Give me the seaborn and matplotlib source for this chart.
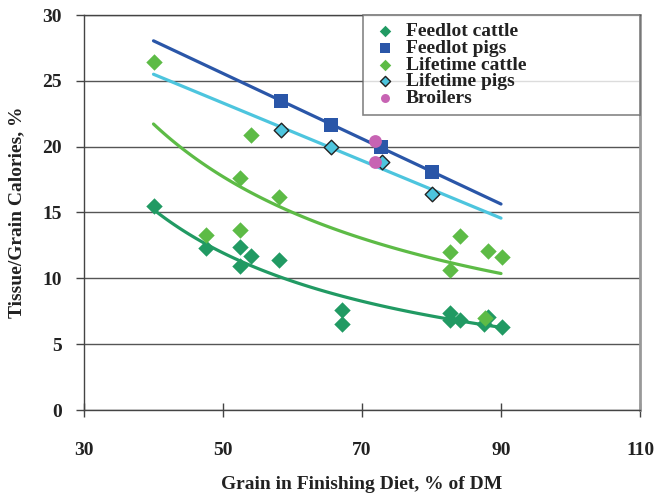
import numpy as np
import pandas as pd
import matplotlib
matplotlib.use("Agg")
import matplotlib.pyplot as plt
import seaborn as sns

# ---- data ----
fc_x = [40.0, 47.6, 52.5, 54.0, 52.5, 58.1, 67.1, 67.1, 82.7, 82.7, 84.1, 88.2, 87.6, 90.1]
fc_y = [15.5, 12.3, 12.4, 11.7, 10.9, 11.4, 7.6, 6.5, 7.4, 6.8, 6.85, 7.1, 6.5, 6.3]

fp_x = [58.4, 65.5, 72.7, 80.0]
fp_y = [23.5, 21.65, 20.0, 18.1]

lc_x = [40.1, 54.0, 52.5, 58.1, 47.6, 52.5, 84.1, 82.7, 82.7, 88.1, 90.1, 87.7]
lc_y = [26.4, 20.9, 17.6, 16.2, 13.3, 13.7, 13.2, 12.0, 10.6, 12.1, 11.6, 7.0]

lp_x = [58.4, 65.5, 72.9, 80.1]
lp_y = [21.3, 19.95, 18.8, 16.4]

br_x = [71.9, 71.9]
br_y = [20.45, 18.8]

series = ["Feedlot cattle", "Feedlot pigs", "Lifetime cattle", "Lifetime pigs", "Broilers"]
colors = {"Feedlot cattle": "#219A63", "Feedlot pigs": "#2A56A8",
          "Lifetime cattle": "#5DBB46", "Lifetime pigs": "#4DC5DE",
          "Broilers": "#C763B3"}
x_ticks = [30, 50, 70, 90, 110]
y_ticks = [0, 5, 10, 15, 20, 25, 30]

frames = []
for name, xs, ys in [("Feedlot cattle", fc_x, fc_y), ("Feedlot pigs", fp_x, fp_y),
                     ("Lifetime cattle", lc_x, lc_y), ("Lifetime pigs", lp_x, lp_y),
                     ("Broilers", br_x, br_y)]:
    frames.append(pd.DataFrame({"x": xs, "y": ys, "series": name}))
df = pd.concat(frames, ignore_index=True)

# ---- trend lines (fitted from the data) ----
xr = np.linspace(40, 90, 100)
def power_fit(xs, ys):
    b, a = np.polyfit(np.log(xs), np.log(ys), 1)
    return np.exp(a) * xr ** b
def lin_fit(xs, ys):
    m, c = np.polyfit(xs, ys, 1)
    return m * xr + c

trends = [("Feedlot pigs", lin_fit(fp_x, fp_y)),
          ("Lifetime pigs", lin_fit(lp_x, lp_y)),
          ("Lifetime cattle", power_fit(lc_x, lc_y)),
          ("Feedlot cattle", power_fit(fc_x, fc_y))]

sns.set_theme(style="white")
plt.rcParams['font.family'] = ['Liberation Serif', 'DejaVu Serif']
plt.rcParams['font.weight'] = 'bold'

fig = plt.figure(figsize=(6.61, 4.98), dpi=100)
ax = fig.add_axes([84/661, 1-410/498, 556/661, 395/498])

for name, yy in trends:
    sns.lineplot(x=xr, y=yy, ax=ax, color=colors[name], lw=2.3, legend=False, zorder=2)

markers = {"Feedlot cattle": "D", "Feedlot pigs": "s", "Lifetime cattle": "D",
           "Lifetime pigs": "D", "Broilers": "o"}
sizes = {"Feedlot cattle": 70, "Feedlot pigs": 95, "Lifetime cattle": 70,
         "Lifetime pigs": 55, "Broilers": 85}
edges = {"Lifetime pigs": "#222222"}
for name in series:
    sub = df[df.series == name]
    sns.scatterplot(data=sub, x="x", y="y", ax=ax, marker=markers[name],
                    s=sizes[name], color=colors[name],
                    edgecolor=edges.get(name, colors[name]),
                    linewidth=1.0 if name in edges else 0, label=name, zorder=3)

ax.set_xlim(30, 110)
ax.set_ylim(0, 30)
ax.set_xticks(x_ticks)
ax.set_yticks(y_ticks)
ax.yaxis.grid(True, color="#555555", lw=1.0)
ax.xaxis.grid(False)
ax.set_axisbelow(True)
for s in ["left", "bottom", "top"]:
    ax.spines[s].set_color("#444444")
    ax.spines[s].set_linewidth(1.0)
ax.spines["right"].set_color("#999999")
ax.spines["right"].set_linewidth(2.0)

ax.tick_params(axis="y", direction="out", length=6, width=1, color="#444444",
               pad=10, labelsize=14, left=True)
ax.tick_params(axis="x", direction="inout", length=10, width=1, color="#444444",
               pad=18, labelsize=14, bottom=True)
for lab in ax.get_xticklabels() + ax.get_yticklabels():
    lab.set_fontweight("bold")
    lab.set_color("#222222")

ax.set_xlabel("Grain in Finishing Diet, % of DM", fontsize=14, fontweight="bold",
              color="#222222", labelpad=12)
ax.set_ylabel("Tissue/Grain Calories, %", fontsize=14, fontweight="bold",
              color="#222222", labelpad=12)

leg = ax.legend(loc="upper left", bbox_to_anchor=(0.502, 0, 0.498, 1.0), mode="expand",
                borderaxespad=0, frameon=True, fancybox=False,
                labelspacing=-0.05, handletextpad=0.3, borderpad=0.4,
                handlelength=1.5, markerscale=0.7,
                prop={"weight": "bold", "size": 14})
leg.get_frame().set_edgecolor("#666666")
leg.get_frame().set_linewidth(1.2)
for t in leg.get_texts():
    t.set_color("#222222")

fig.savefig("out.png", dpi=100)
